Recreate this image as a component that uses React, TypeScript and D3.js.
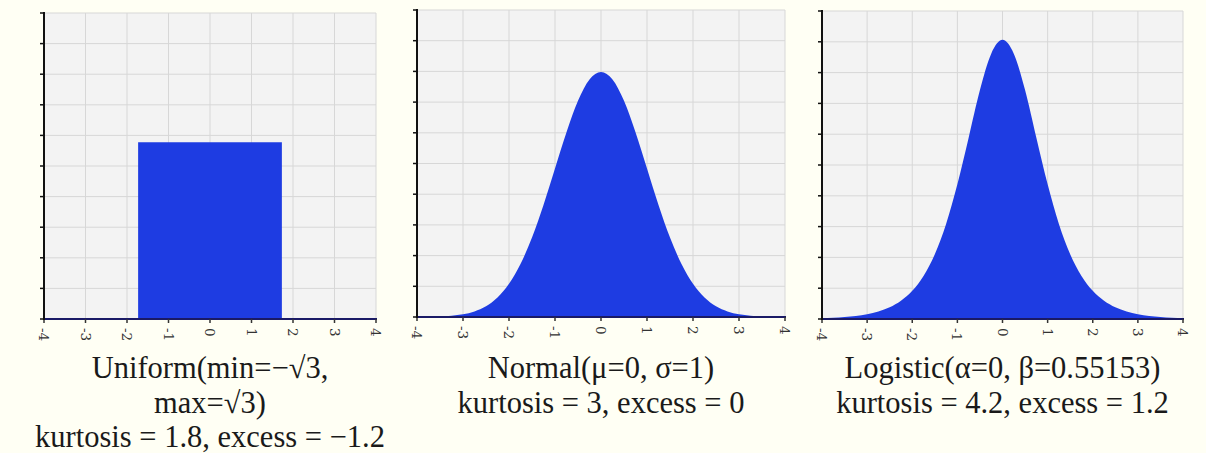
import { useEffect, useRef } from 'react';
import * as d3 from 'd3';

// tick values shared by all three panels
const xTicks = [-4, -3, -2, -1, 0, 1, 2, 3, 4];
const yTicks = [0, 0.05, 0.1, 0.15, 0.2, 0.25, 0.3, 0.35, 0.4, 0.45, 0.5];

// uniform(-sqrt3, sqrt3) box
const uniformX = [-1.732, 1.732];
const uniformY = [0.2887, 0.2887];

// sample positions
const densityX = [
  -4, -3.75, -3.5, -3.25, -3, -2.75, -2.5, -2.25, -2, -1.75, -1.5, -1.25, -1, -0.75, -0.5, -0.25, 0,
  0.25, 0.5, 0.75, 1, 1.25, 1.5, 1.75, 2, 2.25, 2.5, 2.75, 3, 3.25, 3.5, 3.75, 4,
];
const normalY = [
  0.0001, 0.0004, 0.0009, 0.002, 0.0044, 0.0091, 0.0175, 0.0317, 0.054, 0.0863, 0.1295, 0.1826, 0.242,
  0.3011, 0.3521, 0.3867, 0.3989, 0.3867, 0.3521, 0.3011, 0.242, 0.1826, 0.1295, 0.0863, 0.054, 0.0317,
  0.0175, 0.0091, 0.0044, 0.002, 0.0009, 0.0004, 0.0001,
];
const logisticY = [
  0.0013, 0.002, 0.0032, 0.005, 0.0078, 0.0122, 0.0191, 0.0297, 0.0458, 0.0699, 0.1052, 0.1543, 0.2186,
  0.2943, 0.3716, 0.4308, 0.4533, 0.4308, 0.3716, 0.2943, 0.2186, 0.1543, 0.1052, 0.0699, 0.0458, 0.0297,
  0.0191, 0.0122, 0.0078, 0.005, 0.0032, 0.002, 0.0013,
];

const uniformTitle = ['Uniform(min=\u2212\u221A3,', 'max=\u221A3)', 'kurtosis = 1.8, excess = \u22121.2'];
const normalTitle = ['Normal(\u03BC=0, \u03C3=1)', 'kurtosis = 3, excess = 0'];
const logisticTitle = ['Logistic(\u03B1=0, \u03B2=0.55153)', 'kurtosis = 4.2, excess = 1.2'];

type Panel = {
  left: number;
  right: number;
  top: number;
  bottom: number;
  xs: number[];
  ys: number[];
  curved: boolean;
  title: string[];
};

const panels: Panel[] = [
  { left: 44, right: 376, top: 13, bottom: 319, xs: uniformX, ys: uniformY, curved: false, title: uniformTitle },
  { left: 417, right: 785, top: 10, bottom: 317, xs: densityX, ys: normalY, curved: true, title: normalTitle },
  { left: 822, right: 1183, top: 11, bottom: 319, xs: densityX, ys: logisticY, curved: true, title: logisticTitle },
];

const WIDTH = 1206;
const HEIGHT = 453;
const FILL = '#1e3ce2';

function drawPanel(svg: d3.Selection<SVGSVGElement, unknown, null, undefined>, p: Panel) {
  const x = d3.scaleLinear().domain([-4, 4]).range([p.left, p.right]);
  const y = d3.scaleLinear().domain([0, 0.5]).range([p.bottom, p.top]);
  const g = svg.append('g');

  g.append('rect')
    .attr('x', p.left)
    .attr('y', p.top)
    .attr('width', p.right - p.left)
    .attr('height', p.bottom - p.top)
    .attr('fill', '#f3f3f3');

  g.append('g')
    .selectAll('line')
    .data(xTicks)
    .join('line')
    .attr('x1', (d: number) => x(d))
    .attr('x2', (d: number) => x(d))
    .attr('y1', p.top)
    .attr('y2', p.bottom)
    .attr('stroke', '#d7d7d7')
    .attr('stroke-width', 1);

  g.append('g')
    .selectAll('line')
    .data(yTicks)
    .join('line')
    .attr('x1', p.left)
    .attr('x2', p.right)
    .attr('y1', (d: number) => y(d))
    .attr('y2', (d: number) => y(d))
    .attr('stroke', '#d7d7d7')
    .attr('stroke-width', 1);

  const points = p.xs.map((v, i) => [v, p.ys[i]] as [number, number]);
  const area = d3
    .area<[number, number]>()
    .x((d) => x(d[0]))
    .y0(y(0))
    .y1((d) => y(d[1]))
    .curve(p.curved ? d3.curveMonotoneX : d3.curveLinear);

  g.append('path').attr('d', area(points)).attr('fill', FILL);

  // bottom axis
  g.append('line')
    .attr('x1', p.left)
    .attr('x2', p.right + 1)
    .attr('y1', p.bottom)
    .attr('y2', p.bottom)
    .attr('stroke', '#1a1a66')
    .attr('stroke-width', 2);

  g.append('g')
    .selectAll('line')
    .data(xTicks)
    .join('line')
    .attr('x1', (d: number) => x(d))
    .attr('x2', (d: number) => x(d))
    .attr('y1', p.bottom)
    .attr('y2', p.bottom + 4)
    .attr('stroke', '#333')
    .attr('stroke-width', 1.5);

  g.append('g')
    .selectAll('text')
    .data(xTicks)
    .join('text')
    .attr('transform', (d: number) => `translate(${x(d) - 5},${p.bottom + 9}) rotate(90)`)
    .attr('font-family', 'DejaVu Serif, serif')
    .attr('font-size', 13.5)
    .attr('fill', '#333')
    .text((d: number) => String(d));

  // left axis
  g.append('line')
    .attr('x1', p.left)
    .attr('x2', p.left)
    .attr('y1', p.top - 1)
    .attr('y2', p.bottom + 1)
    .attr('stroke', '#111')
    .attr('stroke-width', 2);

  g.append('g')
    .selectAll('line')
    .data(yTicks)
    .join('line')
    .attr('x1', p.left - 4)
    .attr('x2', p.left)
    .attr('y1', (d: number) => y(d))
    .attr('y2', (d: number) => y(d))
    .attr('stroke', '#111')
    .attr('stroke-width', 1.5);

  const cx = (p.left + p.right) / 2;
  g.append('g')
    .selectAll('text')
    .data(p.title)
    .join('text')
    .attr('x', cx)
    .attr('y', (_: string, i: number) => 378 + i * 34.5)
    .attr('text-anchor', 'middle')
    .attr('font-family', 'Liberation Serif, serif')
    .attr('font-size', 30.5)
    .attr('fill', '#1a1a1a')
    .text((d: string) => d);
}

export default function App() {
  const ref = useRef<SVGSVGElement>(null);

  useEffect(() => {
    if (!ref.current) return;
    const svg = d3.select(ref.current);
    svg.selectAll('*').remove();
    svg.append('rect').attr('width', WIDTH).attr('height', HEIGHT).attr('fill', '#fffff4');
    panels.forEach((p) => drawPanel(svg, p));
  }, []);

  return (
    <div style={{ position: 'absolute', left: 0, top: 0 }}>
      <svg ref={ref} width={WIDTH} height={HEIGHT} style={{ display: 'block' }} />
    </div>
  );
}
